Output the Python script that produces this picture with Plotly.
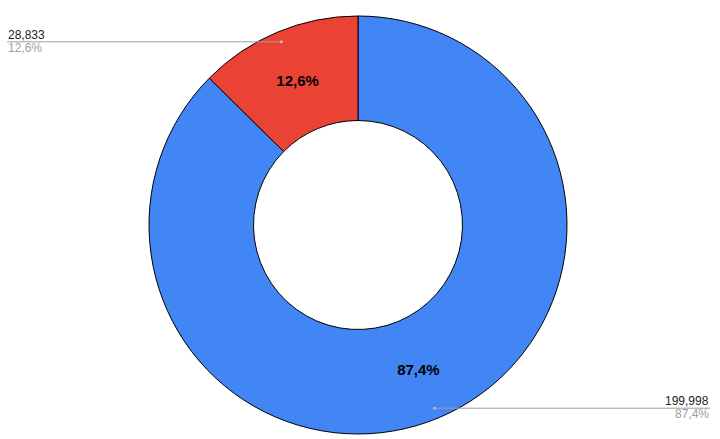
import math
import plotly.graph_objects as go

# Data
labels = ["A", "B"]
values = [199998, 28833]
value_labels = ["199,998", "28,833"]
pct_labels = ["87,4%", "12,6%"]
colors = ["#4285F4", "#EA4335"]

W, H = 720, 439
cx, cy, R = 358, 225, 209  # pie geometry in px

fig = go.Figure(go.Pie(
    labels=labels,
    values=values,
    text=pct_labels,
    texttemplate="%{text}",
    textposition="inside",
    insidetextorientation="horizontal",
    textfont=dict(family="Liberation Sans, Arial", size=15, color="#000000", weight="bold"),
    marker=dict(colors=colors, line=dict(color="#000000", width=1)),
    hole=0.5,
    sort=False,
    direction="clockwise",
    rotation=0,
    domain=dict(x=[(cx - R) / W, (cx + R) / W], y=[(H - cy - R) / H, (H - cy + R) / H]),
    showlegend=False,
    hoverinfo="label+value+percent",
))

shapes = []
annotations = []
total = sum(values)
start = 90.0
for i, v in enumerate(values):
    sweep = 360.0 * v / total
    mid = start - sweep / 2
    start -= sweep
    a = math.radians(mid)
    px = cx + 0.95 * R * math.cos(a)
    py = cy - 0.95 * R * math.sin(a)
    xp = px / W
    yp = 1 - py / H
    left = px < cx
    x_end = 7 / W if left else (W - 10) / W
    shapes.append(dict(type="line", xref="paper", yref="paper", x0=xp, x1=x_end, y0=yp, y1=yp,
                       line=dict(color="#9e9e9e", width=1)))
    shapes.append(dict(type="circle", xref="paper", yref="paper",
                       x0=(px - 1.5) / W, x1=(px + 1.5) / W, y0=yp - 1.5 / H, y1=yp + 1.5 / H,
                       fillcolor="#bdbdbd", line=dict(width=0)))
    anchor = "left" if left else "right"
    annotations.append(dict(xref="paper", yref="paper", x=x_end, y=yp, text=value_labels[i],
                            showarrow=False, xanchor=anchor, yanchor="bottom",
                            font=dict(family="Liberation Sans, Arial", size=12, color="#222222"),
                            borderpad=0, yshift=-1))
    annotations.append(dict(xref="paper", yref="paper", x=x_end, y=yp, text=pct_labels[i],
                            showarrow=False, xanchor=anchor, yanchor="top",
                            font=dict(family="Liberation Sans, Arial", size=12, color="#9e9e9e"),
                            borderpad=0, yshift=2))

fig.update_layout(
    width=W, height=H,
    margin=dict(l=0, r=0, t=0, b=0),
    paper_bgcolor="#ffffff",
    plot_bgcolor="#ffffff",
    shapes=shapes,
    annotations=annotations,
)

fig.write_html("out.html", config={"displayModeBar": False},
               post_script="document.body.style.margin='0';document.body.style.overflow='hidden';")
